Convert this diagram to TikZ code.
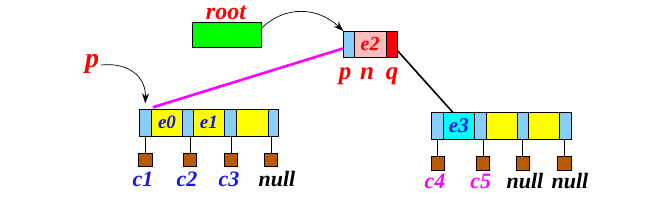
\documentclass[tikz,border=0pt]{standalone}
\usepackage{fontspec}
\setmainfont{Liberation Serif}
\usetikzlibrary{arrows.meta,backgrounds,calc}
\definecolor{cellblue}{RGB}{135,206,250}
\definecolor{cellpink}{RGB}{255,190,190}
\definecolor{brownbox}{RGB}{185,90,0}
\definecolor{txtblue}{RGB}{20,20,235}
\definecolor{pcyan}{RGB}{0,255,255}
\definecolor{pmagenta}{RGB}{255,0,255}
\definecolor{pgreen}{RGB}{0,255,0}
\definecolor{pyellow}{RGB}{255,255,0}
\definecolor{pred}{RGB}{255,0,0}
\tikzset{
  cellbox/.style={draw=black, line width=0.8pt, inner sep=0pt, outer sep=0pt, anchor=north west, minimum height=26.8pt},
  leaf/.style={draw=black, line width=0.8pt, fill=brownbox, inner sep=0pt, minimum width=13.6pt, minimum height=13.4pt},
  lbl/.style={font=\fontsize{#1}{#1}\selectfont\bfseries\itshape, inner sep=0pt},
  lbl/.default=20,
  stem/.style={line width=0.8pt},
  ptr/.style={line width=0.7pt, -{Stealth[length=10pt,width=7pt]}},
}
\begin{document}
\begin{tikzpicture}[x=1pt,y=-1pt]
\useasboundingbox (0,0) rectangle (669,201);
% root
\node[draw=black, line width=0.8pt, fill=pgreen, anchor=north west, minimum width=69pt, minimum height=25pt, inner sep=0pt] (rootbox) at (191.7,22.3) {};
\node[lbl=24, text=pred, anchor=base] (roottxt) at (226,19) {root};
% top node
\node[cellbox, fill=cellblue, minimum width=11pt] (t1) at (343.3,31) {};
\node[cellbox, fill=cellpink, minimum width=31.7pt, text=pred] (t2) at (354.3,31) {\fontsize{20}{20}\selectfont\bfseries\itshape e2};
\node[cellbox, fill=pred, minimum width=11.7pt] (t3) at (386,31) {};
\node[lbl=25, text=pred, anchor=base] (tp) at (345,79) {p};
\node[lbl=25, text=pred, anchor=base] (tn) at (367,79) {n};
\node[lbl=25, text=pred, anchor=base] (tq) at (392,79) {q};
% left node
\node[cellbox, fill=cellblue, minimum width=12pt] (l1) at (139.3,109.3) {};
\node[cellbox, fill=pyellow, minimum width=31.4pt, text=txtblue] (l2) at (151.3,109.3) {\fontsize{19}{19}\selectfont\bfseries\itshape e0};
\node[cellbox, fill=cellblue, minimum width=10.6pt] (l3) at (182.7,109.3) {};
\node[cellbox, fill=pyellow, minimum width=31pt, text=txtblue] (l4) at (193.3,109.3) {\fontsize{19}{19}\selectfont\bfseries\itshape e1};
\node[cellbox, fill=cellblue, minimum width=11.7pt] (l5) at (224.3,109.3) {};
\node[cellbox, fill=pyellow, minimum width=32pt] (l6) at (236,109.3) {};
\node[cellbox, fill=cellblue, minimum width=10.3pt] (l7) at (268,109.3) {};
% right node
\node[cellbox, fill=cellblue, minimum width=12.7pt] (r1) at (431,112.3) {};
\node[cellbox, fill=pcyan, minimum width=30.3pt, text=txtblue] (r2) at (443.7,112.3) {\fontsize{21}{21}\selectfont\bfseries\itshape e3};
\node[cellbox, fill=cellblue, minimum width=12.7pt] (r3) at (474,112.3) {};
\node[cellbox, fill=pyellow, minimum width=31pt] (r4) at (486.7,112.3) {};
\node[cellbox, fill=cellblue, minimum width=10.6pt] (r5) at (517.7,112.3) {};
\node[cellbox, fill=pyellow, minimum width=31pt] (r6) at (528.3,112.3) {};
\node[cellbox, fill=cellblue, minimum width=12.4pt] (r7) at (559.3,112.3) {};
% left leaves
\node[leaf] (a1) at (145.5,160) {};
\node[leaf] (a2) at (190,160) {};
\node[leaf] (a3) at (231,160) {};
\node[leaf] (a4) at (271,160) {};
\draw[stem] (a1.north) -- (a1.north |- l1.south);
\draw[stem] (a2.north) -- (a2.north |- l3.south);
\draw[stem] (a3.north) -- (a3.north |- l5.south);
\draw[stem] (a4.north) -- (a4.north |- l7.south);
\node[lbl=22, text=txtblue, anchor=base] (ca1) at (143,186.5) {c1};
\node[lbl=22, text=txtblue, anchor=base] (ca2) at (187,186.5) {c2};
\node[lbl=22, text=txtblue, anchor=base] (ca3) at (229,186.5) {c3};
\node[lbl=22, text=black, anchor=base] (ca4) at (277,186.5) {null};
% right leaves
\node[leaf] (b1) at (437.7,163.3) {};
\node[leaf] (b2) at (483,163.3) {};
\node[leaf] (b3) at (522.7,163.3) {};
\node[leaf] (b4) at (564.3,163.3) {};
\draw[stem] (b1.north) -- (b1.north |- r1.south);
\draw[stem] (b2.north) -- (b2.north |- r3.south);
\draw[stem] (b3.north) -- (b3.north |- r5.south);
\draw[stem] (b4.north) -- (b4.north |- r7.south);
\node[lbl=22, text=pmagenta, anchor=base] (cb1) at (435,188) {c4};
\node[lbl=22, text=pmagenta, anchor=base] (cb2) at (480.7,188) {c5};
\node[lbl=22, text=black, anchor=base] (cb3) at (525,188) {null};
\node[lbl=22, text=black, anchor=base] (cb4) at (570,188) {null};
% p label
\node[lbl=28, text=pred] (ptxt) at (92,64) {p};
% connectors
\begin{scope}[on background layer]
\draw[line width=1.6pt] (t3.center) -- ($(r2.north west)!0.3!(r2.north east)$);
\end{scope}
\draw[pmagenta, line width=2.6pt] (l2.north west) ++(1.5,-2) coordinate (mstart) -- ($(t1.south west)!0.35!(t1.north west)$);
\draw[ptr] (rootbox.east |- 0,28.3) coordinate (rs) .. controls (285,5) and (318,7) .. (t1.north west);
\draw[ptr] (ptxt.east |- 0,65) ++(2,0) coordinate (ps) .. controls (130,62) and (146,78) .. ($(l1.north)+(0,-6)$) coordinate (pe);
\end{tikzpicture}
\end{document}
